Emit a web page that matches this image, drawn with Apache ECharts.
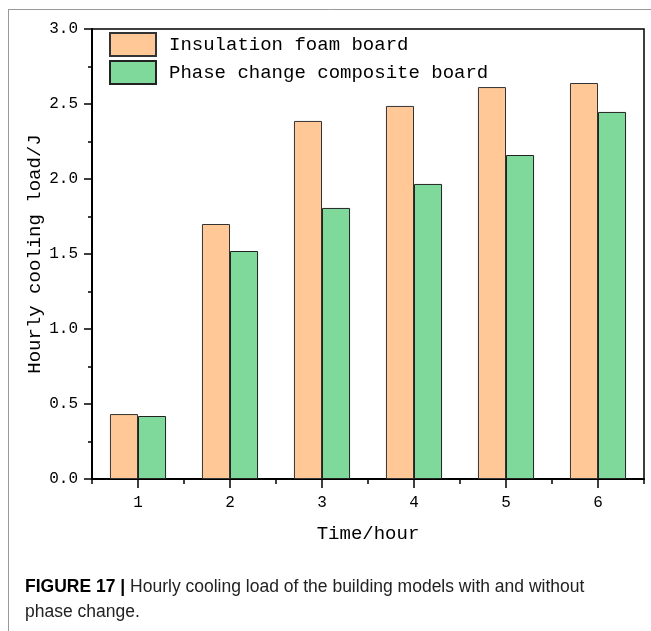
<!DOCTYPE html>
<html><head><meta charset="utf-8">
<script src="https://cdn.jsdelivr.net/npm/echarts@6/dist/echarts.min.js"></script>
<style>html,body{margin:0;padding:0;background:#fff}#c{width:651px;height:631px}</style>
</head><body><div id="c"></div>
<script>
const categories = ['1','2','3','4','5','6'];
const foamBoard = [0.433, 1.70, 2.387, 2.487, 2.613, 2.64];
const pcmBoard = [0.42, 1.52, 1.807, 1.967, 2.16, 2.447];
const seriesNames = ['Insulation foam board', 'Phase change composite board'];
const yTicks = {min: 0, max: 3, interval: 0.5};

const MONO = '"Liberation Mono", monospace';
const SANS = '"Liberation Sans", Arial, sans-serif';
const chart = echarts.init(document.getElementById('c'), null, {renderer: 'canvas'});
chart.setOption({
  animation: false,
  backgroundColor: '#fff',
  grid: {left: 92, top: 29, width: 552, height: 450, show: true, borderColor: '#000', borderWidth: 1.5, backgroundColor: 'transparent'},
  legend: {
    left: 109, top: 32, padding: 0, orient: 'vertical', itemWidth: 46, itemHeight: 23, itemGap: 3,
    icon: 'rect',
    textStyle: {fontFamily: MONO, fontSize: 19, color: '#000', padding: [0,0,0,8]},
    data: seriesNames
  },
  xAxis: [{
    type: 'category', data: categories, position: 'bottom',
    axisLine: {lineStyle: {color: '#000', width: 2}},
    axisTick: {show: true, alignWithLabel: true, length: 9, lineStyle: {color: '#000', width: 1.5}},
    axisLabel: {fontFamily: MONO, fontSize: 16, color: '#000', margin: 16},
    name: 'Time/hour', nameLocation: 'middle', nameGap: 45,
    nameTextStyle: {fontFamily: MONO, fontSize: 19, color: '#000'}
  }, {
    type: 'category', data: categories, position: 'bottom', gridIndex: 0,
    axisLine: {show: false},
    axisTick: {show: true, length: 5, lineStyle: {color: '#000', width: 1.5}},
    axisLabel: {show: false}
  }],
  yAxis: {
    type: 'value', min: yTicks.min, max: yTicks.max, interval: yTicks.interval,
    axisLine: {show: true, lineStyle: {color: '#000', width: 2}},
    axisTick: {show: true, length: 8, lineStyle: {color: '#000', width: 1.5}},
    minorTick: {show: true, splitNumber: 2, length: 4, lineStyle: {color: '#000', width: 1.5}},
    splitLine: {show: false},
    axisLabel: {fontFamily: MONO, fontSize: 16, color: '#000', margin: 14, formatter: v => v.toFixed(1)},
    name: 'Hourly cooling load/J', nameLocation: 'middle', nameGap: 48, nameMoveOverlap: false,
    nameTextStyle: {fontFamily: MONO, fontSize: 19, color: '#000'}
  },
  series: [{
    name: seriesNames[0], type: 'bar', data: foamBoard, barGap: '0%', barCategoryGap: '39%',
    itemStyle: {color: '#FFC896', borderColor: '#333', borderWidth: 1}
  }, {
    name: seriesNames[1], type: 'bar', data: pcmBoard, barGap: '0%', barCategoryGap: '39%',
    itemStyle: {color: '#7ED99A', borderColor: '#222', borderWidth: 1}
  }],
  graphic: [
    {type: 'line', shape: {x1: 8, y1: 9.5, x2: 651, y2: 9.5}, style: {stroke: '#999', lineWidth: 1}},
    {type: 'line', shape: {x1: 8.5, y1: 9, x2: 8.5, y2: 631}, style: {stroke: '#999', lineWidth: 1}},
    {type: 'text', left: 25, top: 578, style: {
      text: '{b|FIGURE 17 |} Hourly cooling load of the building models with and without',
      rich: {b: {fontWeight: 'bold', fontFamily: SANS, fontSize: 17.5, fill: '#000'}},
      fontFamily: SANS, fontSize: 17.5, fill: '#222'
    }},
    {type: 'text', left: 25, top: 603, style: {
      text: 'phase change.', fontFamily: SANS, fontSize: 17.5, fill: '#222'
    }}
  ]
});
</script></body></html>
